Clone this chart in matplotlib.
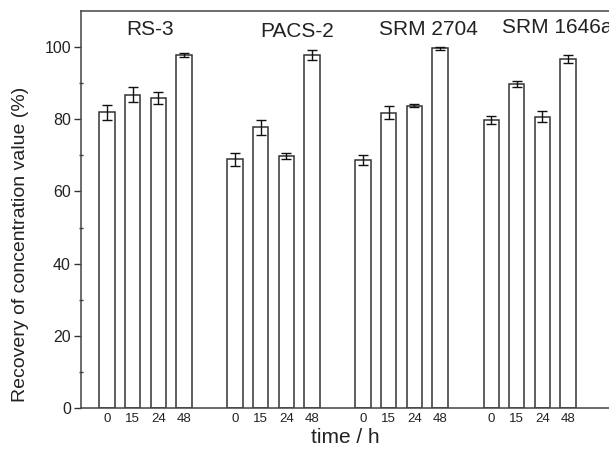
import matplotlib
matplotlib.use("Agg")
import matplotlib.pyplot as plt
import numpy as np

plt.rcParams['font.family'] = ['Liberation Sans', 'DejaVu Sans']

groups = ["RS-3", "PACS-2", "SRM 2704", "SRM 1646a"]
times = ["0", "15", "24", "48"]
values = {
    "RS-3":      [82.0, 86.9, 85.9, 97.9],
    "PACS-2":    [68.9, 77.8, 69.8, 97.8],
    "SRM 2704":  [68.7, 81.9, 83.8, 99.7],
    "SRM 1646a": [79.8, 89.8, 80.8, 96.8],
}
errors = {
    "RS-3":      [2.1, 2.0, 1.7, 0.5],
    "PACS-2":    [1.85, 2.1, 0.9, 1.4],
    "SRM 2704":  [1.3, 1.8, 0.4, 0.5],
    "SRM 1646a": [1.2, 0.9, 1.4, 1.2],
}
label_x = [1.69, 7.43, 12.55, 15.42]
label_y = [103.4, 103.0, 103.4, 103.9]
label_ha = ["center", "center", "center", "left"]

W, H = 609, 450
fig = plt.figure(figsize=(W / 100, H / 100), dpi=100)
left, right, bottom, top = 80.7, 609, 407.7, 11.3
ax = fig.add_axes([left / W, (H - bottom) / H, (right - left) / W, (bottom - top) / H])

txt = "#222222"
pos = []
labs = []
for g, name in enumerate(groups):
    xs = np.arange(4) + 5 * g
    ax.bar(xs, values[name], width=0.6, color="white", edgecolor="#333333",
           linewidth=1.1, zorder=2)
    ax.errorbar(xs, values[name], yerr=errors[name], fmt="none", ecolor="#111111",
                elinewidth=1.0, capsize=3.6, capthick=1.0, zorder=3)
    pos.extend(xs)
    labs.extend(times)
    ax.text(label_x[g], label_y[g], name, ha=label_ha[g], va="baseline",
            fontsize=15, color=txt)

ax.set_xlim(-1.03, 19.6)
ax.set_ylim(0, 110)
ax.set_xticks(pos)
ax.set_xticklabels(labs, fontsize=9.5, color=txt)
ax.tick_params(axis="x", length=0, pad=4)
ax.set_yticks(np.arange(0, 101, 20))
ax.set_yticks(np.arange(10, 101, 20), minor=True)
ax.tick_params(axis="y", which="major", direction="out", length=5, width=1,
               labelsize=11.5, labelcolor=txt, pad=2, color="#333333")
ax.tick_params(axis="y", which="minor", direction="inout", length=3, width=1,
               color="#333333")
ax.spines["right"].set_visible(False)
for s in ["left", "top", "bottom"]:
    ax.spines[s].set_color("#444444")
    ax.spines[s].set_linewidth(1.1)

ax.set_xlabel("time / h", fontsize=15, color=txt, labelpad=2)
ax.set_ylabel("Recovery of concentration value (%)", fontsize=14, color=txt)
ax.yaxis.set_label_coords(-0.098, 0.413)

fig.savefig("out.png", dpi=100)
